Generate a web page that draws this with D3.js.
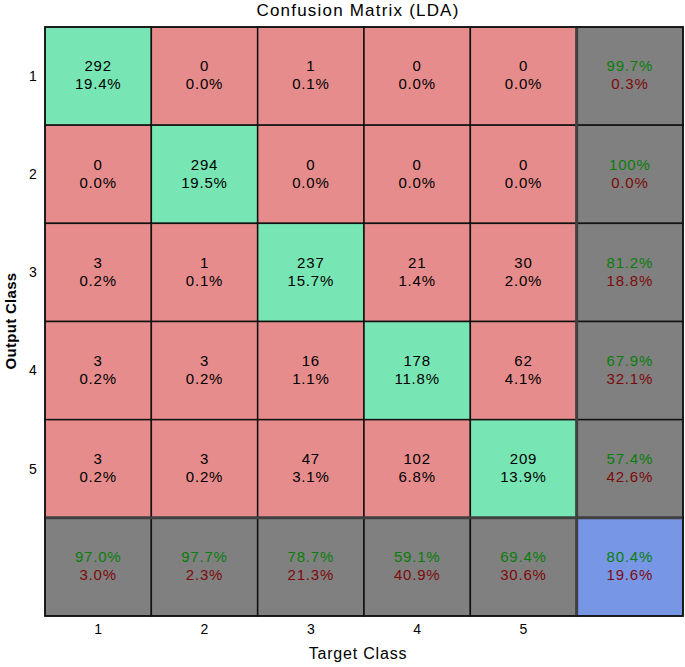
<!DOCTYPE html>
<html><head><meta charset="utf-8">
<script src="https://cdn.jsdelivr.net/npm/d3@7"></script>
<style>body{margin:0;background:#fff}text{font-family:"Liberation Sans",Arial,sans-serif}</style>
</head><body>
<svg id="c" width="685" height="667"></svg>
<script>
const classes = ["1","2","3","4","5"];
const counts = [
  [292,0,1,0,0],
  [0,294,0,0,0],
  [3,1,237,21,30],
  [3,3,16,178,62],
  [3,3,47,102,209]
];
const cellPct = [
  ["19.4%","0.0%","0.1%","0.0%","0.0%"],
  ["0.0%","19.5%","0.0%","0.0%","0.0%"],
  ["0.2%","0.1%","15.7%","1.4%","2.0%"],
  ["0.2%","0.2%","1.1%","11.8%","4.1%"],
  ["0.2%","0.2%","3.1%","6.8%","13.9%"]
];
const rowGood = ["99.7%","100%","81.2%","67.9%","57.4%"];
const rowBad  = ["0.3%","0.0%","18.8%","32.1%","42.6%"];
const colGood = ["97.0%","97.7%","78.7%","59.1%","69.4%"];
const colBad  = ["3.0%","2.3%","21.3%","40.9%","30.6%"];
const totalGood = "80.4%", totalBad = "19.6%";

const svg = d3.select("#c");
const L=45, R=683, T=27, B=616;
const idx = d3.range(6);
const x = d3.scaleBand().domain(idx).range([L,R]);
const y = d3.scaleBand().domain(idx).range([T,B]);
const font = "15px";
const cells = [];
idx.forEach(r=>idx.forEach(c=>{
  let fill, l1, l2, c1="#000", c2="#000";
  if(r<5&&c<5){ fill = r===c?"#78E6B4":"#E68C8C"; l1=String(counts[r][c]); l2=cellPct[r][c]; }
  else if(r<5&&c===5){ fill="#808080"; l1=rowGood[r]; l2=rowBad[r]; c1="#0a7d0a"; c2="#7d0a0a"; }
  else if(r===5&&c<5){ fill="#808080"; l1=colGood[c]; l2=colBad[c]; c1="#0a7d0a"; c2="#7d0a0a"; }
  else { fill="#7896E6"; l1=totalGood; l2=totalBad; c1="#0a7d0a"; c2="#7d0a0a"; }
  cells.push({r,c,fill,l1,l2,c1,c2});
}));
const g = svg.append("g");
g.selectAll("rect").data(cells).join("rect")
  .attr("x",d=>x(d.c)).attr("y",d=>y(d.r))
  .attr("width",x.bandwidth()).attr("height",y.bandwidth())
  .attr("fill",d=>d.fill).attr("stroke","#111").attr("stroke-width",1.5);
svg.append("line").attr("x1",x(5)).attr("x2",x(5)).attr("y1",T).attr("y2",B).attr("stroke","#404040").attr("stroke-width",3);
svg.append("line").attr("x1",L).attr("x2",R).attr("y1",y(5)).attr("y2",y(5)).attr("stroke","#404040").attr("stroke-width",3);
svg.append("rect").attr("x",L).attr("y",T).attr("width",R-L).attr("height",B-T).attr("fill","none").attr("stroke","#111").attr("stroke-width",1.5);

const tg = svg.append("g").attr("text-anchor","middle").style("font-size",font).style("letter-spacing","0.8px");
cells.forEach(d=>{
  const cx = x(d.c)+x.bandwidth()/2, cy = y(d.r)+y.bandwidth()/2;
  tg.append("text").attr("x",cx).attr("y",cy-10).attr("dy","0.35em").attr("fill",d.c1).text(d.l1);
  tg.append("text").attr("x",cx).attr("y",cy+8).attr("dy","0.35em").attr("fill",d.c2).text(d.l2);
});

const xa = d3.scaleBand().domain(classes.concat([""])).range([L,R]);
const ya = d3.scaleBand().domain(classes.concat([""])).range([T,B]);
svg.append("g").selectAll("text").data(classes).join("text")
  .attr("x",d=>xa(d)+xa.bandwidth()/2).attr("y",629).attr("dy","0.35em")
  .attr("text-anchor","middle").style("font-size","14px").text(d=>d);
svg.append("g").selectAll("text").data(classes).join("text")
  .attr("x",33).attr("y",d=>ya(d)+ya.bandwidth()/2).attr("dy","0.35em")
  .attr("text-anchor","middle").style("font-size","14px").text(d=>d);

svg.append("text").attr("x",358).attr("y",10).attr("dy","0.35em").attr("text-anchor","middle")
  .style("font-size","17px").style("letter-spacing","1.2px").text("Confusion Matrix (LDA)");
svg.append("text").attr("x",358).attr("y",653).attr("dy","0.35em").attr("text-anchor","middle")
  .style("font-size","16px").style("letter-spacing","0.8px").text("Target Class");
svg.append("text").attr("transform","translate(11,321) rotate(-90)").attr("dy","0.35em").attr("text-anchor","middle")
  .style("font-size","15px").style("font-weight","bold").style("letter-spacing","0.3px").text("Output Class");
</script>
</body></html>
